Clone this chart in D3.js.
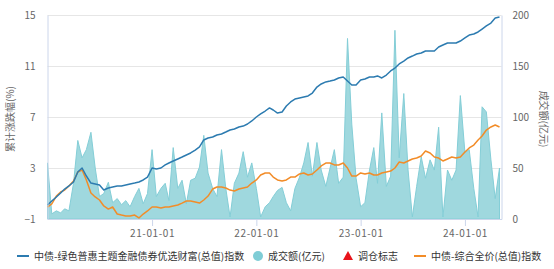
<!DOCTYPE html>
<html>
<head>
<meta charset="utf-8">
<script src="https://cdn.jsdelivr.net/npm/d3@7"></script>
<style>
  body { margin: 0; background: #fff; }
  text { font-family: "Noto Sans CJK SC", "Noto Sans", sans-serif; }
</style>
</head>
<body>
<div id="chart"></div>
<script>
// semi-monthly observations, 2020-01-01 .. 2024-05-01
var startMonth = "2020-01", pointCount = 105;

var greenIndex = [
    0.10, 0.41, 0.73, 1.04, 1.35, 1.59, 1.90, 2.69, 3.00, 2.37, 1.82, 1.75, 1.67, 1.27, 1.43, 1.51,
    1.59, 1.59, 1.67, 1.75, 1.82, 1.90, 2.06, 2.29, 3.00, 2.92, 3.00, 3.24, 3.39, 3.55, 3.71, 3.86,
    4.02, 4.18, 4.41, 4.65, 5.20, 5.35, 5.43, 5.59, 5.67, 5.82, 5.98, 6.06, 6.22, 6.29, 6.45, 6.69,
    7.00, 7.24, 7.47, 7.71, 7.55, 7.31, 7.39, 7.86, 8.18, 8.41, 8.49, 8.57, 8.65, 8.88, 9.35, 9.59,
    9.75, 9.82, 9.90, 10.06, 10.14, 9.82, 9.51, 9.51, 9.90, 9.98, 10.14, 10.14, 10.22, 10.06, 10.29, 10.61,
    10.84, 11.16, 11.39, 11.63, 11.78, 11.94, 12.02, 12.18, 12.18, 12.18, 12.49, 12.65, 12.80, 12.80, 12.80, 12.96,
    13.20, 13.43, 13.51, 13.67, 13.90, 14.14, 14.37, 14.76, 14.84
];

var compositeIndex = [
    -0.06, 0.18, 0.80, 1.12, 1.27, 1.59, 1.98, 2.69, 2.84, 2.06, 1.04, 0.73, 0.49, 0.02, -0.22, -0.06,
    -0.61, -0.69, -0.76, -0.76, -0.69, -0.92, -0.61, -0.37, -0.06, -0.06, -0.14, -0.06, -0.06, 0.02, 0.10, 0.25,
    0.41, 0.41, 0.33, 0.25, 0.49, 0.80, 1.35, 1.51, 1.51, 1.43, 1.27, 1.20, 1.35, 1.43, 1.51, 1.82,
    2.06, 2.45, 2.61, 2.61, 2.29, 2.06, 1.98, 2.06, 2.29, 2.29, 2.53, 2.61, 2.45, 2.53, 2.84, 3.16,
    3.39, 3.39, 3.24, 3.24, 3.39, 3.00, 2.37, 2.37, 2.61, 2.53, 2.61, 2.45, 2.45, 2.61, 2.69, 2.76,
    3.00, 3.47, 3.39, 3.55, 3.71, 3.78, 3.94, 4.33, 4.18, 3.86, 3.78, 3.55, 3.71, 3.86, 3.78, 3.86,
    4.25, 4.57, 4.80, 5.20, 5.51, 5.98, 6.22, 6.37, 6.22
];

var turnover = [
    55, 5, 8, 6, 10, 8, 35, 77, 60, 68, 85, 50, 22, 25, 36, 16,
    20, 14, 18, 12, 22, 30, 15, 25, 68, 22, 30, 35, 18, 70, 30, 38,
    15, 38, 40, 51, 82, 45, 30, 22, 68, 30, 2, 35, 45, 66, 41, 55,
    30, 2, 12, 16, 22, 28, 31, 16, 8, 30, 41, 55, 75, 42, 75, 48,
    32, 50, 68, 35, 41, 177, 93, 40, 12, 16, 48, 70, 35, 104, 32, 42,
    185, 60, 123, 48, 2, 32, 61, 40, 58, 48, 90, 2, 48, 38, 48, 121,
    65, 68, 30, 2, 110, 105, 58, 20, 50
];

var leftTicks = [-1, 3, 7, 11, 15];
var rightTicks = [0, 50, 100, 150, 200];
var yearTicks = ["2021-01-01", "2022-01-01", "2023-01-01", "2024-01-01"];

var leftTitle = "累计涨跌幅(%)";
var rightTitle = "成交额(亿元)";
var legendItems = [
    { label: "中债-绿色普惠主题金融债券优选财富(总值)指数", kind: "line", color: "#2c7bb0" },
    { label: "成交额(亿元)", kind: "circle", color: "#7fcdd6" },
    { label: "调仓标志", kind: "triangle", color: "#e8141b" },
    { label: "中债-综合全价(总值)指数", kind: "line", color: "#f28c28" }
];

(function () {
    'use strict';
    var width = 554, height = 269,
        left = 47.5, right = 501.5, top = 15, bottom = 219,
        parse = d3.timeParse("%Y-%m-%d"),
        dates = [], data, svg, x, yL, yR, m;

    // 1st and 16th of each month
    m = d3.timeParse("%Y-%m")(startMonth);
    while (dates.length < pointCount) {
        dates.push(m);
        if (dates.length < pointCount) {
            dates.push(d3.timeDay.offset(m, 15));
        }
        m = d3.timeMonth.offset(m, 1);
    }

    data = dates.map(function (d, k) {
        return { date: d, green: greenIndex[k], comp: compositeIndex[k], vol: turnover[k] };
    });

    x = d3.scaleTime()
        .domain([parse("2020-01-01"), parse("2024-05-08")])
        .range([left, right]);
    yL = d3.scaleLinear().domain([-1, 15]).range([bottom, top]);
    yR = d3.scaleLinear().domain([0, 200]).range([bottom, top]);

    svg = d3.select("#chart").append("svg")
        .attr("width", width)
        .attr("height", height);

    // grid
    svg.append("g")
        .selectAll("line")
        .data(leftTicks.filter(function (t) { return t !== -1; }))
        .enter()
        .append("line")
        .attr("x1", left)
        .attr("x2", right)
        .attr("y1", function (d) { return Math.round(yL(d)) + 0.5; })
        .attr("y2", function (d) { return Math.round(yL(d)) + 0.5; })
        .attr("stroke", "#e6e6e6")
        .attr("stroke-width", 1);

    // turnover area
    svg.append("path")
        .datum(data)
        .attr("fill", "#9fd8de")
        .attr("stroke", "#84ced7")
        .attr("stroke-width", 1)
        .attr("d", d3.area()
            .x(function (d) { return x(d.date); })
            .y0(yR(0))
            .y1(function (d) { return yR(d.vol); }));

    // index lines
    svg.append("path")
        .datum(data)
        .attr("fill", "none")
        .attr("stroke", "#f28c28")
        .attr("stroke-width", 1.5)
        .attr("stroke-linejoin", "round")
        .attr("d", d3.line()
            .x(function (d) { return x(d.date); })
            .y(function (d) { return yL(d.comp); }));

    svg.append("path")
        .datum(data)
        .attr("fill", "none")
        .attr("stroke", "#2c7bb0")
        .attr("stroke-width", 1.5)
        .attr("stroke-linejoin", "round")
        .attr("d", d3.line()
            .x(function (d) { return x(d.date); })
            .y(function (d) { return yL(d.green); }));

    // axes
    var axisColor = "#ccd6eb", labelColor = "#666";

    var xAxis = svg.append("g")
        .attr("transform", "translate(0," + bottom + ")")
        .call(d3.axisBottom(x)
            .tickValues(yearTicks.map(parse))
            .tickFormat(d3.timeFormat("%y-%m-%d"))
            .tickSize(7)
            .tickSizeOuter(0)
            .tickPadding(4));
    xAxis.select(".domain").attr("stroke", axisColor);
    xAxis.selectAll(".tick line").attr("stroke", axisColor);
    xAxis.selectAll("text")
        .attr("fill", labelColor)
        .style("font-size", "10px")
        .style("letter-spacing", "0.6px");

    var lAxis = svg.append("g")
        .attr("transform", "translate(" + left + ",0)")
        .call(d3.axisLeft(yL).tickValues(leftTicks).tickSize(0).tickPadding(12));
    lAxis.select(".domain").attr("stroke", axisColor);
    lAxis.selectAll("text").attr("fill", labelColor).style("font-size", "10px");

    var rAxis = svg.append("g")
        .attr("transform", "translate(" + right + ",0)")
        .call(d3.axisRight(yR).tickValues(rightTicks).tickSize(0).tickPadding(11));
    rAxis.select(".domain").attr("stroke", axisColor);
    rAxis.selectAll("text").attr("fill", labelColor).style("font-size", "10px");

    svg.append("text")
        .attr("transform", "translate(14," + ((top + bottom) / 2 + 2) + ") rotate(-90)")
        .attr("text-anchor", "middle")
        .attr("fill", labelColor)
        .style("font-size", "10px")
        .text(leftTitle);

    svg.append("text")
        .attr("transform", "translate(540," + ((top + bottom) / 2 + 2) + ") rotate(90)")
        .attr("text-anchor", "middle")
        .attr("fill", labelColor)
        .style("font-size", "10px")
        .text(rightTitle);

    // legend
    var legendX = [17, 253, 343, 414], legendY = 256;
    var items = svg.append("g")
        .selectAll("g")
        .data(legendItems)
        .enter()
        .append("g")
        .attr("transform", function (d, k) { return "translate(" + legendX[k] + "," + legendY + ")"; });

    items.each(function (d) {
        var g = d3.select(this);
        if (d.kind === "line") {
            g.append("line").attr("x1", 0).attr("x2", 12).attr("y1", 0).attr("y2", 0)
                .attr("stroke", d.color).attr("stroke-width", 2);
        } else if (d.kind === "circle") {
            g.append("circle").attr("cx", 5).attr("cy", 0).attr("r", 5).attr("fill", d.color);
        } else {
            g.append("path").attr("d", "M5,-5L10,4L0,4Z").attr("fill", d.color);
        }
    });

    items.append("text")
        .attr("x", function (d) { return d.kind === "line" ? 17 : 15; })
        .attr("y", 0)
        .attr("dy", "0.35em")
        .attr("fill", "#333")
        .style("font-size", "10px")
        .text(function (d) { return d.label; });
}());
</script>
</body>
</html>
